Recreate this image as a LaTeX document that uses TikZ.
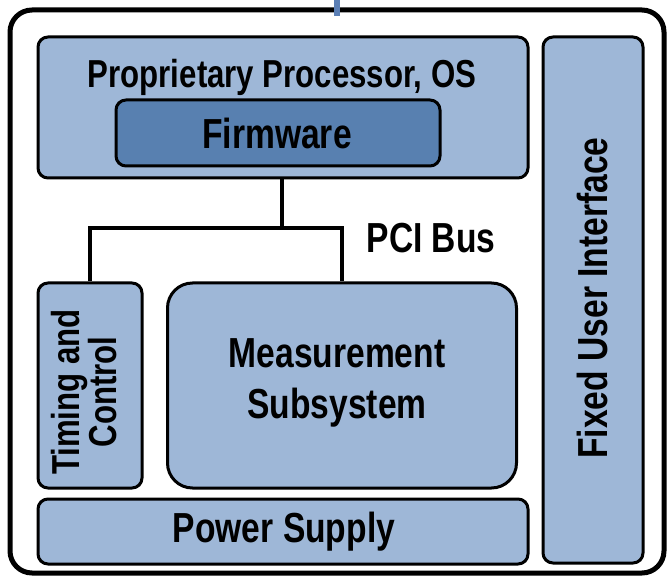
\documentclass[tikz,border=0pt]{standalone}
\usepackage{fontspec}
\setmainfont[FakeStretch=0.8]{Liberation Sans}
\definecolor{boxfill}{HTML}{9EB7D7}
\definecolor{fwfill}{HTML}{5880B0}
\definecolor{tick}{HTML}{5B7FB5}
\begin{document}
\begin{tikzpicture}[x=1pt,y=-1pt,
  blk/.style={draw=black,line width=3pt,fill=boxfill,rounded corners=10pt,inner sep=0pt},
  lbl/.style={font=\fontsize{42}{44}\selectfont\bfseries,inner sep=0pt,align=center},
  bus/.style={line width=4pt,draw=black}]
\useasboundingbox (0,0) rectangle (667,577);
\draw[line width=5pt,rounded corners=22pt] (10,10) rectangle (664,573);
\fill[tick] (334,0) rectangle (340,16);
\node[blk,minimum width=490pt,minimum height=141pt] (proc) at (283,107.5) {};
\node[lbl,font=\fontsize{39}{40}\selectfont\bfseries] (proct) at (282,77) {Proprietary Processor, OS};
\node[blk,fill=fwfill,minimum width=324pt,minimum height=66pt] (fw) at (278,133) {};
\node[lbl] (fwt) at (277,133) {Firmware};
\node[blk,minimum width=100pt,minimum height=526pt] (ui) at (593,300) {};
\node[lbl,rotate=90] (uit) at (592,298) {Fixed User Interface};
\node[blk,minimum width=104pt,minimum height=205pt] (tc) at (90,385.5) {};
\node[lbl,rotate=90,font=\fontsize{39}{35}\selectfont\bfseries] (tct) at (84,392) {Timing and\\Control};
\node[blk,rounded corners=25pt,minimum width=349pt,minimum height=205pt] (ms) at (342,385.5) {};
\node[lbl,font=\fontsize{42}{51}\selectfont\bfseries] (mst) at (337,383) {Measurement\\Subsystem};
\node[blk,minimum width=490pt,minimum height=65pt] (ps) at (283,531.5) {};
\node[lbl] (pst) at (284,532) {Power Supply};
\node[lbl] (pci) at (431,238) {PCI Bus};
\coordinate (j) at (282,228);
\draw[bus] (proc.south -| j) -- (j);
\draw[bus] (tc.north) |- (j) -| (ms.north -| 342,0);
\end{tikzpicture}
\end{document}
